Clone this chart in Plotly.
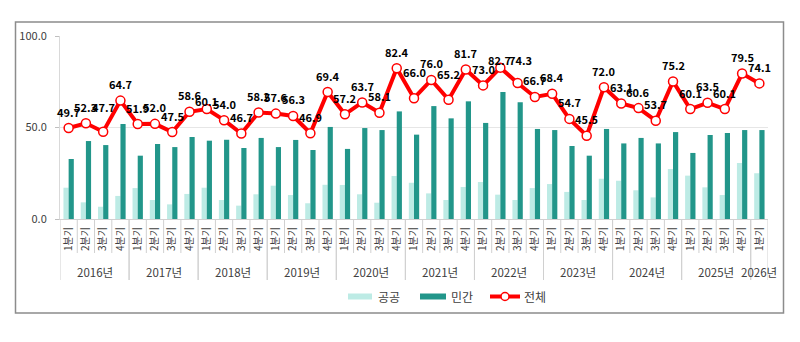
import plotly.graph_objects as go

years = ['2016년', '2017년', '2018년', '2019년', '2020년', '2021년',
         '2022년', '2023년', '2024년', '2025년', '2026년']
quarter_names = ['1분기', '2분기', '3분기', '4분기']
quarters_per_year = [4, 4, 4, 4, 4, 4, 4, 4, 4, 4, 1]

public = [17.1, 9.1, 6.7, 12.6, 16.9, 10.4, 8.0, 13.7, 17.1, 10.4, 7.3, 13.5,
          18.2, 13.1, 8.6, 18.7, 18.6, 13.5, 8.9, 23.5, 19.8, 14.0, 10.4, 17.5,
          20.2, 13.3, 10.4, 16.9, 19.1, 14.8, 10.4, 22.0, 20.9, 15.7, 11.8, 27.3,
          23.7, 17.3, 13.1, 30.6, 25.0]
private = [32.8, 42.6, 40.4, 51.9, 34.6, 41.0, 39.3, 44.8, 42.8, 43.3, 38.8, 44.3,
           39.3, 43.2, 37.7, 50.3, 38.3, 49.7, 48.6, 58.8, 46.1, 61.7, 55.0, 64.3,
           52.5, 69.4, 63.8, 49.2, 48.6, 39.9, 34.6, 49.2, 41.3, 44.3, 41.3, 47.5,
           36.1, 45.9, 47.0, 48.6, 48.6]
total = [49.7, 52.3, 47.7, 64.7, 51.9, 52.0, 47.5, 58.6, 60.1, 54.0, 46.7, 58.2,
         57.6, 56.3, 46.9, 69.4, 57.2, 63.7, 58.1, 82.4, 66.0, 76.0, 65.2, 81.7,
         73.0, 82.7, 74.3, 66.7, 68.4, 54.7, 45.5, 72.0, 63.1, 60.6, 53.7, 75.2,
         60.1, 63.5, 60.1, 79.5, 74.1]
series_names = ['공공', '민간', '전체']
y_ticks = [0, 50, 100]

# quarter tick labels
q_labels = []
for n in quarters_per_year:
    q_labels += quarter_names[:n]
xs = list(range(len(q_labels)))

# layout geometry (pixels)
W, H = 800, 342
L, R, T, B = 60, 32, 36, 123
PW, PH = W - L - R, H - T - B
def px_x(p):
    return (p - L) / PW
def px_y(p):
    return (H - B - p) / PH

C_PUB = '#BDEBE5'
C_PRI = '#22968A'
C_RED = '#FF0000'
C_TXT = '#404040'
C_DIV = '#D0D0D0'
FONT = 'Noto Sans CJK KR'

fig = go.Figure()
fig.add_trace(go.Bar(x=xs, y=public, name=series_names[0], marker_color=C_PUB,
                     marker_line_width=0))
fig.add_trace(go.Bar(x=xs, y=private, name=series_names[1], marker_color=C_PRI,
                     marker_line_width=0))
fig.add_trace(go.Scatter(x=xs, y=total, name=series_names[2], mode='lines+markers',
                         line=dict(color=C_RED, width=4),
                         marker=dict(size=9, color='white',
                                     line=dict(color=C_RED, width=1.5))))

# data labels (label offset tweaks, px)
label_shift = {2: (0, 25), 8: (0, 8), 20: (0, 26), 22: (0, 26), 25: (-1, 8), 26: (3, 23)}
annotations = []
for i, v in enumerate(total):
    dx, dy = label_shift.get(i, (0, 16.5))
    annotations.append(dict(x=xs[i], y=v, text=f'{v:.1f}', showarrow=False,
                            xshift=dx, yshift=dy, xanchor='center', yanchor='middle',
                            font=dict(family=FONT, size=11, color='#000000',
                                      weight='bold')))

# year labels and dividers
shapes = []
start = 0
for yname, n in zip(years, quarters_per_year):
    center = start + (n - 1) / 2
    annotations.append(dict(x=center, y=px_y(272), xref='x', yref='paper',
                            text=yname, showarrow=False, xanchor='center',
                            yanchor='middle',
                            font=dict(family=FONT, size=11.5, color=C_TXT)))
    for k in range(n + 1):
        xpos = start + k - 0.5
        if k == 0 or k == n:
            y1 = px_y(280)
        else:
            y1 = px_y(253)
        shapes.append(dict(type='line', xref='x', yref='paper', x0=xpos, x1=xpos,
                           y0=0, y1=y1, line=dict(color=C_DIV, width=1)))
    start += n

# outer border
shapes.append(dict(type='rect', xref='paper', yref='paper',
                   x0=px_x(15.5), x1=px_x(783.5), y0=px_y(313), y1=px_y(22),
                   line=dict(color='#8C8C8C', width=1.5), fillcolor='rgba(0,0,0,0)'))

# manual legend
leg_y = 296.5
shapes.append(dict(type='rect', xref='paper', yref='paper',
                   x0=px_x(348), x1=px_x(372), y0=px_y(leg_y + 3), y1=px_y(leg_y - 3),
                   line=dict(width=0), fillcolor=C_PUB))
shapes.append(dict(type='rect', xref='paper', yref='paper',
                   x0=px_x(420), x1=px_x(446), y0=px_y(leg_y + 3), y1=px_y(leg_y - 3),
                   line=dict(width=0), fillcolor=C_PRI))
shapes.append(dict(type='line', xref='paper', yref='paper',
                   x0=px_x(490), x1=px_x(520), y0=px_y(leg_y), y1=px_y(leg_y),
                   line=dict(color=C_RED, width=4)))
shapes.append(dict(type='circle', xref='paper', yref='paper',
                   x0=px_x(501), x1=px_x(509), y0=px_y(leg_y + 4), y1=px_y(leg_y - 4),
                   line=dict(color=C_RED, width=1.5), fillcolor='white'))
for txt, xp in zip(series_names, [376, 449, 522]):
    annotations.append(dict(x=px_x(xp), y=px_y(leg_y), xref='paper', yref='paper',
                            text=txt, showarrow=False, xanchor='left',
                            yanchor='middle',
                            font=dict(family=FONT, size=12, color=C_TXT)))

fig.update_layout(
    width=W, height=H,
    margin=dict(l=L, r=R, t=T, b=B),
    paper_bgcolor='white', plot_bgcolor='white',
    barmode='group', bargap=0.4, bargroupgap=0,
    showlegend=False,
    annotations=annotations, shapes=shapes,
    font=dict(family=FONT, color=C_TXT),
)
fig.update_xaxes(range=[-0.5, len(xs) - 0.5], tickmode='array', tickvals=xs,
                 ticktext=q_labels, tickangle=-90, showgrid=False,
                 showline=True, linecolor=C_DIV, linewidth=1, ticks='',
                 tickfont=dict(family=FONT, size=10, color=C_TXT),
                 ticklabelstandoff=3, zeroline=False)
fig.update_yaxes(range=[0, 100], tickmode='array', tickvals=y_ticks,
                 ticktext=[f'{t:.1f}' for t in y_ticks], showgrid=True,
                 gridcolor='#E6E6E6', gridwidth=1, showline=True,
                 linecolor='#D9D9D9', linewidth=1, ticks='outside', ticklen=4,
                 tickcolor='#BFBFBF', zeroline=False,
                 tickfont=dict(family=FONT, size=11, color=C_TXT),
                 ticklabelstandoff=6)

fig.write_html('out.html')
